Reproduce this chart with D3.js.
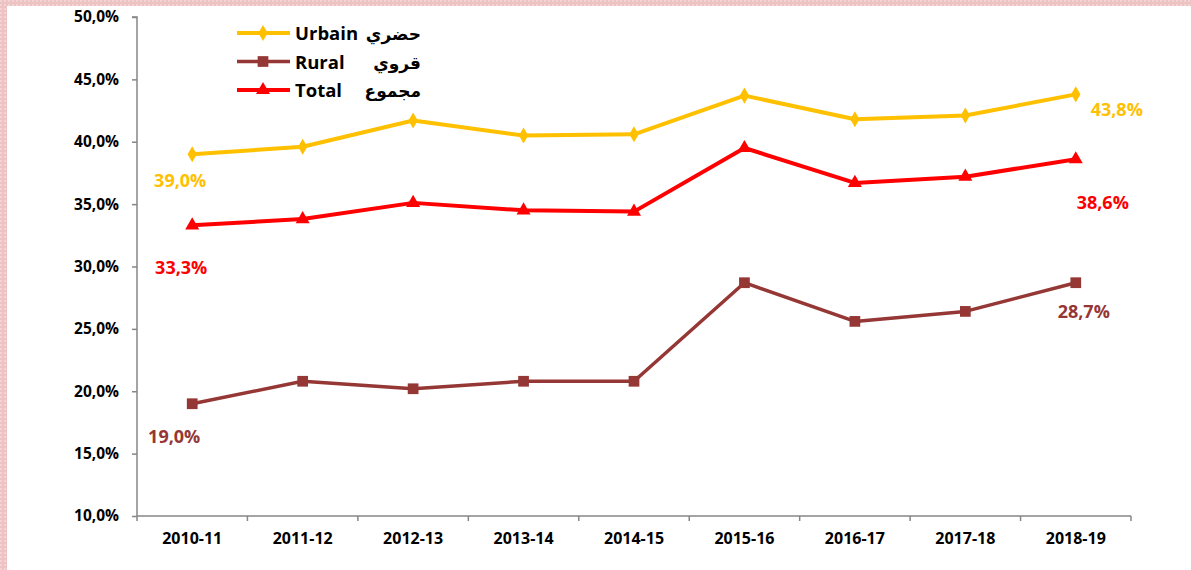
<!DOCTYPE html>
<html>
<head>
<meta charset="utf-8">
<script src="https://cdn.jsdelivr.net/npm/d3@7"></script>
<style>
  body { margin: 0; background: #fff; }
  text { font-family: "Open Sans", sans-serif; font-weight: bold; }
</style>
</head>
<body>
<div id="chart"></div>
<script>
// years on the x axis
const years = ["2010-11", "2011-12", "2012-13", "2013-14", "2014-15", "2015-16", "2016-17", "2017-18", "2018-19"];
// percentages
const urbain = [39.0, 39.6, 41.7, 40.5, 40.6, 43.7, 41.8, 42.1, 43.8];
const rural = [19.0, 20.8, 20.2, 20.8, 20.8, 28.7, 25.6, 26.4, 28.7];
const total = [33.3, 33.8, 35.1, 34.5, 34.4, 39.5, 36.7, 37.2, 38.6];
const yTicks = [10, 15, 20, 25, 30, 35, 40, 45, 50];

const W = 1191, H = 570;
const fmt = (v) => v.toFixed(1).replace(".", ",") + "%";

const series = [
  { name: "Urbain", ar: "حضري", values: urbain, color: "#FFC000", shape: d3.symbolDiamond, size: 75, width: 4 },
  { name: "Rural", ar: "قروي", values: rural, color: "#953735", shape: d3.symbolSquare, size: 115, width: 3.5 },
  { name: "Total", ar: "مجموع", values: total, color: "#FF0000", shape: d3.symbolTriangle, size: 85, width: 4 }
];

const svg = d3.select("#chart").append("svg")
  .attr("width", W).attr("height", H);

// pinkish frame on the top and left
const defs = svg.append("defs");
const pat = defs.append("pattern").attr("id", "tex")
  .attr("width", 4).attr("height", 4).attr("patternUnits", "userSpaceOnUse");
pat.append("rect").attr("width", 4).attr("height", 4).attr("fill", "#ecc2c2");
pat.append("rect").attr("width", 2).attr("height", 2).attr("fill", "#f3d3d3");
svg.append("rect").attr("width", W).attr("height", H).attr("fill", "url(#tex)");
svg.append("rect").attr("x", 7).attr("y", 6).attr("width", W - 7).attr("height", H - 6).attr("fill", "#fff");

const x = d3.scaleBand().domain(years).range([137, 1131]);
const y = d3.scaleLinear().domain([10, 50]).range([516, 17]);

// y axis
const yAxis = svg.append("g")
  .attr("transform", "translate(137,0)")
  .call(d3.axisLeft(y).tickValues(yTicks).tickSize(5).tickPadding(13).tickFormat(fmt));
yAxis.selectAll("line, path").attr("stroke", "#868686").attr("stroke-width", 1.5);
yAxis.selectAll("text").attr("fill", "#000").style("font-size", "15.5px");
yAxis.select(".domain").attr("d", `M-5,${y(50)}H0V${y(10)}`);

// x axis with ticks between the categories
const xAxis = svg.append("g")
  .attr("transform", "translate(0,516)")
  .call(d3.axisBottom(x).tickSize(0).tickPadding(17));
xAxis.selectAll("text").attr("fill", "#000").style("font-size", "16px");
xAxis.select(".domain").attr("stroke", "#868686").attr("stroke-width", 1.5)
  .attr("d", `M137,0H1131`);
xAxis.selectAll(".bound").data(d3.range(years.length + 1)).join("line")
  .attr("class", "bound")
  .attr("x1", (i) => 137 + i * x.step()).attr("x2", (i) => 137 + i * x.step())
  .attr("y1", 0).attr("y2", 5)
  .attr("stroke", "#868686").attr("stroke-width", 1.5);

const cx = (d) => x(d) + x.bandwidth() / 2;
const line = d3.line().x((d, i) => cx(years[i])).y((d) => y(d));

series.forEach((s) => {
  svg.append("path").datum(s.values)
    .attr("d", line)
    .attr("fill", "none")
    .attr("stroke", s.color)
    .attr("stroke-width", s.width)
    .attr("stroke-linejoin", "round");

  svg.append("g").selectAll("path").data(s.values).join("path")
    .attr("transform", (d, i) => `translate(${cx(years[i])},${y(d)})`)
    .attr("d", d3.symbol().type(s.shape).size(s.size))
    .attr("fill", s.color);
});

// data labels at the first and last point (offset of the baseline from the point)
const labelOffsets = {
  Urbain: [[-12, 33], [41, 22]],
  Rural: [[-18, 39], [8, 35]],
  Total: [[-11, 49], [27, 50]]
};
series.forEach((s) => {
  const last = s.values.length - 1;
  [0, last].forEach((i, k) => {
    const off = labelOffsets[s.name][k];
    svg.append("text")
      .attr("x", cx(years[i]) + off[0])
      .attr("y", y(s.values[i]) + off[1])
      .attr("text-anchor", "middle")
      .attr("fill", s.color)
      .style("font-size", "18px")
      .text(fmt(s.values[i]));
  });
});

// legend
const legend = svg.append("g");
series.forEach((s, i) => {
  const ly = 33 + i * 28.5;
  legend.append("line")
    .attr("x1", 237).attr("x2", 290).attr("y1", ly).attr("y2", ly)
    .attr("stroke", s.color).attr("stroke-width", s.width);
  legend.append("path")
    .attr("transform", `translate(263,${ly})`)
    .attr("d", d3.symbol().type(s.shape).size(s.size))
    .attr("fill", s.color);
  legend.append("text")
    .attr("x", 295).attr("y", ly + 7)
    .style("font-size", "18.5px")
    .text(s.name);
  legend.append("text")
    .attr("x", 421).attr("y", ly + 7)
    .attr("direction", "rtl")
    .attr("text-anchor", "start")
    .style("font-size", "17px")
    .style("font-family", "'DejaVu Sans', sans-serif")
    .text(s.ar);
});
</script>
</body>
</html>
